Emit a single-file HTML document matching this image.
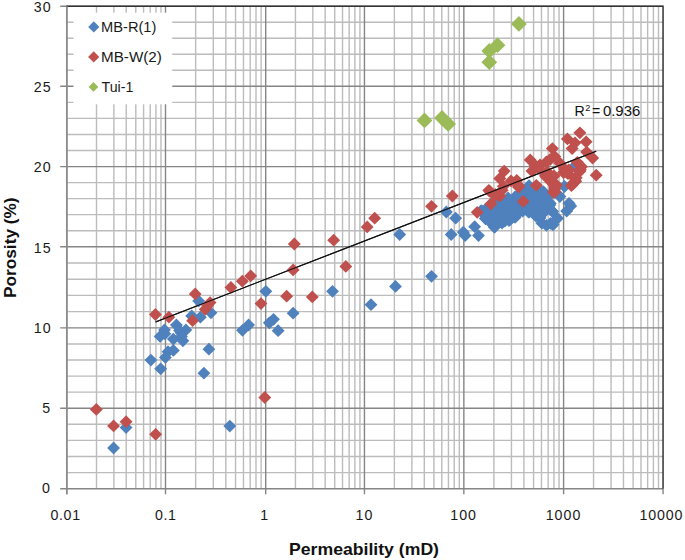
<!DOCTYPE html>
<html><head><meta charset="utf-8"><title>Porosity vs Permeability</title>
<style>html,body{margin:0;padding:0;background:#fff}body{width:685px;height:560px;overflow:hidden}</style>
</head><body>
<svg width="685" height="560" viewBox="0 0 685 560" style="display:block">
<rect width="685" height="560" fill="#fff"/>
<g stroke="#bcbcbc" stroke-width="1.4" fill="none">
<path d="M96.51 6.25V488.7M113.89 6.25V488.7M126.22 6.25V488.7M135.79 6.25V488.7M143.60 6.25V488.7M150.21 6.25V488.7M155.93 6.25V488.7M160.98 6.25V488.7M195.66 6.25V488.7M213.31 6.25V488.7M225.83 6.25V488.7M235.54 6.25V488.7M243.47 6.25V488.7M250.18 6.25V488.7M255.99 6.25V488.7M261.12 6.25V488.7M295.43 6.25V488.7M312.82 6.25V488.7M325.15 6.25V488.7M334.72 6.25V488.7M342.54 6.25V488.7M349.15 6.25V488.7M354.88 6.25V488.7M359.93 6.25V488.7M394.37 6.25V488.7M411.88 6.25V488.7M424.29 6.25V488.7M433.93 6.25V488.7M441.80 6.25V488.7M448.45 6.25V488.7M454.22 6.25V488.7M459.30 6.25V488.7M493.88 6.25V488.7M511.44 6.25V488.7M523.91 6.25V488.7M533.57 6.25V488.7M541.47 6.25V488.7M548.15 6.25V488.7M553.93 6.25V488.7M559.04 6.25V488.7M593.54 6.25V488.7M611.05 6.25V488.7M623.47 6.25V488.7M633.11 6.25V488.7M640.99 6.25V488.7M647.65 6.25V488.7M653.41 6.25V488.7M658.50 6.25V488.7"/>
<path d="M66.8 472.60H663.05M66.8 456.50H663.05M66.8 440.40H663.05M66.8 424.30H663.05M66.8 392.14H663.05M66.8 376.08H663.05M66.8 360.02H663.05M66.8 343.96H663.05M66.8 311.66H663.05M66.8 295.42H663.05M66.8 279.18H663.05M66.8 262.94H663.05M66.8 230.68H663.05M66.8 214.66H663.05M66.8 198.64H663.05M66.8 182.62H663.05M66.8 150.54H663.05M66.8 134.48H663.05M66.8 118.42H663.05M66.8 102.36H663.05M66.8 70.29H663.05M66.8 54.28H663.05M66.8 38.27H663.05M66.8 22.26H663.05"/>
</g>
<g stroke="#858585" stroke-width="1.4" fill="none">
<path d="M66.80 6.25V494.3M165.50 6.25V494.3M265.70 6.25V494.3M364.45 6.25V494.3M463.85 6.25V494.3M563.60 6.25V494.3M663.05 488.7V494.3"/>
<path d="M60.199999999999996 488.70H663.05M60.199999999999996 408.20H663.05M60.199999999999996 327.90H663.05M60.199999999999996 246.70H663.05M60.199999999999996 166.60H663.05M60.199999999999996 86.30H663.05M60.199999999999996 6.25H663.05"/>
</g>
<path d="M66.0 6.25H663.05V488.7" stroke="#333" stroke-width="1.5" fill="none"/>
<path d="M66.8 6.25V494.3" stroke="#8c8c8c" stroke-width="1.65" fill="none"/>
<path d="M155.5 321.9L596.2 151.3" stroke="#111" stroke-width="1.1" fill="none"/>
<g><path d="M126.1 421.2L132.5 427.6L126.1 434.1L119.6 427.6Z" fill="#4F81BD"/><path d="M113.6 441.6L120.0 448.0L113.6 454.4L107.1 448.0Z" fill="#4F81BD"/><path d="M198.7 294.4L205.1 300.9L198.7 307.3L192.2 300.9Z" fill="#4F81BD"/><path d="M211.0 306.4L217.4 312.8L211.0 319.2L204.6 312.8Z" fill="#4F81BD"/><path d="M200.4 310.8L206.8 317.2L200.4 323.6L194.0 317.2Z" fill="#4F81BD"/><path d="M191.7 309.4L198.1 315.9L191.7 322.3L185.2 315.9Z" fill="#4F81BD"/><path d="M176.4 318.6L182.8 325.0L176.4 331.4L170.0 325.0Z" fill="#4F81BD"/><path d="M164.5 323.4L170.9 329.9L164.5 336.3L158.1 329.9Z" fill="#4F81BD"/><path d="M185.9 323.4L192.3 329.9L185.9 336.3L179.5 329.9Z" fill="#4F81BD"/><path d="M181.2 326.4L187.6 332.9L181.2 339.3L174.8 332.9Z" fill="#4F81BD"/><path d="M160.1 329.9L166.5 336.4L160.1 342.8L153.7 336.4Z" fill="#4F81BD"/><path d="M173.3 332.7L179.8 339.1L173.3 345.6L166.9 339.1Z" fill="#4F81BD"/><path d="M179.5 324.1L185.9 330.5L179.5 336.9L173.1 330.5Z" fill="#4F81BD"/><path d="M181.5 330.1L187.9 336.5L181.5 342.9L175.1 336.5Z" fill="#4F81BD"/><path d="M164.9 327.4L171.3 333.8L164.9 340.2L158.5 333.8Z" fill="#4F81BD"/><path d="M182.9 334.4L189.3 340.8L182.9 347.2L176.5 340.8Z" fill="#4F81BD"/><path d="M173.3 343.9L179.8 350.4L173.3 356.8L166.9 350.4Z" fill="#4F81BD"/><path d="M168.0 345.2L174.4 351.7L168.0 358.1L161.6 351.7Z" fill="#4F81BD"/><path d="M165.4 350.9L171.8 357.4L165.4 363.8L159.0 357.4Z" fill="#4F81BD"/><path d="M150.9 353.7L157.3 360.1L150.9 366.6L144.5 360.1Z" fill="#4F81BD"/><path d="M160.7 362.4L167.1 368.8L160.7 375.2L154.2 368.8Z" fill="#4F81BD"/><path d="M208.9 342.8L215.3 349.2L208.9 355.6L202.5 349.2Z" fill="#4F81BD"/><path d="M203.9 366.8L210.3 373.2L203.9 379.6L197.5 373.2Z" fill="#4F81BD"/><path d="M248.6 318.6L255.0 325.0L248.6 331.4L242.2 325.0Z" fill="#4F81BD"/><path d="M242.5 323.9L248.9 330.3L242.5 336.8L236.1 330.3Z" fill="#4F81BD"/><path d="M265.9 284.9L272.3 291.3L265.9 297.8L259.4 291.3Z" fill="#4F81BD"/><path d="M332.5 284.9L338.9 291.3L332.5 297.8L326.1 291.3Z" fill="#4F81BD"/><path d="M293.1 306.8L299.6 313.2L293.1 319.6L286.7 313.2Z" fill="#4F81BD"/><path d="M273.5 312.9L279.9 319.3L273.5 325.8L267.1 319.3Z" fill="#4F81BD"/><path d="M269.3 316.4L275.8 322.8L269.3 329.2L262.9 322.8Z" fill="#4F81BD"/><path d="M278.1 324.2L284.6 330.7L278.1 337.1L271.7 330.7Z" fill="#4F81BD"/><path d="M229.8 419.7L236.2 426.1L229.8 432.6L223.4 426.1Z" fill="#4F81BD"/><path d="M399.6 228.1L406.1 234.5L399.6 240.9L393.2 234.5Z" fill="#4F81BD"/><path d="M446.3 205.6L452.8 212.0L446.3 218.4L439.9 212.0Z" fill="#4F81BD"/><path d="M455.6 211.8L462.1 218.2L455.6 224.6L449.2 218.2Z" fill="#4F81BD"/><path d="M451.2 228.1L457.6 234.5L451.2 240.9L444.8 234.5Z" fill="#4F81BD"/><path d="M371.0 298.2L377.4 304.7L371.0 311.1L364.6 304.7Z" fill="#4F81BD"/><path d="M395.5 279.9L401.9 286.4L395.5 292.8L389.1 286.4Z" fill="#4F81BD"/><path d="M431.5 269.9L437.9 276.3L431.5 282.8L425.1 276.3Z" fill="#4F81BD"/><path d="M463.3 225.8L469.8 232.2L463.3 238.6L456.9 232.2Z" fill="#4F81BD"/><path d="M465.1 229.2L471.6 235.6L465.1 242.0L458.7 235.6Z" fill="#4F81BD"/><path d="M474.7 220.2L481.1 226.7L474.7 233.1L468.2 226.7Z" fill="#4F81BD"/><path d="M478.5 229.2L484.9 235.6L478.5 242.0L472.1 235.6Z" fill="#4F81BD"/><path d="M494.4 220.6L500.8 227.0L494.4 233.4L487.9 227.0Z" fill="#4F81BD"/><path d="M481.2 204.6L487.6 211.0L481.2 217.4L474.8 211.0Z" fill="#4F81BD"/><path d="M485.5 212.1L491.9 218.5L485.5 224.9L479.1 218.5Z" fill="#4F81BD"/><path d="M553.0 218.4L559.5 224.8L553.0 231.2L546.5 224.8Z" fill="#4F81BD"/><path d="M550.5 217.0L557.0 223.4L550.5 229.8L544.0 223.4Z" fill="#4F81BD"/><path d="M557.5 211.9L564.0 218.3L557.5 224.8L551.0 218.3Z" fill="#4F81BD"/><path d="M546.5 218.9L553.0 225.3L546.5 231.8L540.0 225.3Z" fill="#4F81BD"/><path d="M541.9 216.8L548.4 223.2L541.9 229.6L535.4 223.2Z" fill="#4F81BD"/><path d="M536.0 209.8L542.5 216.2L536.0 222.6L529.5 216.2Z" fill="#4F81BD"/><path d="M542.3 207.6L548.8 214.0L542.3 220.4L535.8 214.0Z" fill="#4F81BD"/><path d="M547.0 197.1L553.5 203.5L547.0 209.9L540.5 203.5Z" fill="#4F81BD"/><path d="M543.5 185.5L550.0 191.9L543.5 198.3L537.0 191.9Z" fill="#4F81BD"/><path d="M566.7 204.7L573.2 211.1L566.7 217.5L560.2 211.1Z" fill="#4F81BD"/><path d="M570.7 199.6L577.2 206.0L570.7 212.4L564.2 206.0Z" fill="#4F81BD"/><path d="M569.0 196.9L575.5 203.3L569.0 209.8L562.5 203.3Z" fill="#4F81BD"/><path d="M559.9 190.1L566.4 196.5L559.9 202.9L553.4 196.5Z" fill="#4F81BD"/><path d="M564.5 180.1L571.0 186.5L564.5 192.9L558.0 186.5Z" fill="#4F81BD"/><path d="M550.0 197.0L556.5 203.4L550.0 209.8L543.5 203.4Z" fill="#4F81BD"/><path d="M552.4 205.0L558.9 211.4L552.4 217.8L545.9 211.4Z" fill="#4F81BD"/><path d="M574.2 160.2L580.7 166.6L574.2 173.0L567.8 166.6Z" fill="#4F81BD"/><path d="M515.0 211.0L521.5 217.4L515.0 223.8L508.6 217.4Z" fill="#4F81BD"/><path d="M481.0 204.6L487.4 211.0L481.0 217.4L474.6 211.0Z" fill="#4F81BD"/><path d="M490.0 198.6L496.4 205.0L490.0 211.4L483.6 205.0Z" fill="#4F81BD"/><path d="M500.0 194.6L506.4 201.0L500.0 207.4L493.6 201.0Z" fill="#4F81BD"/><path d="M508.0 191.6L514.5 198.0L508.0 204.4L501.6 198.0Z" fill="#4F81BD"/><path d="M515.0 190.6L521.5 197.0L515.0 203.4L508.6 197.0Z" fill="#4F81BD"/><path d="M522.0 183.6L528.5 190.0L522.0 196.4L515.5 190.0Z" fill="#4F81BD"/><path d="M529.0 179.2L535.5 185.7L529.0 192.1L522.5 185.7Z" fill="#4F81BD"/><path d="M536.0 183.6L542.5 190.0L536.0 196.4L529.5 190.0Z" fill="#4F81BD"/><path d="M543.0 185.6L549.5 192.0L543.0 198.4L536.5 192.0Z" fill="#4F81BD"/><path d="M547.0 191.6L553.5 198.0L547.0 204.4L540.5 198.0Z" fill="#4F81BD"/><path d="M550.0 197.0L556.5 203.4L550.0 209.8L543.5 203.4Z" fill="#4F81BD"/><path d="M552.4 205.0L558.9 211.4L552.4 217.8L545.9 211.4Z" fill="#4F81BD"/><path d="M546.0 200.6L552.5 207.0L546.0 213.4L539.5 207.0Z" fill="#4F81BD"/><path d="M541.0 205.6L547.5 212.0L541.0 218.4L534.5 212.0Z" fill="#4F81BD"/><path d="M540.0 211.6L546.5 218.0L540.0 224.4L533.5 218.0Z" fill="#4F81BD"/><path d="M535.0 207.1L541.5 213.5L535.0 219.9L528.5 213.5Z" fill="#4F81BD"/><path d="M529.0 205.6L535.5 212.0L529.0 218.4L522.5 212.0Z" fill="#4F81BD"/><path d="M522.6 204.6L529.1 211.0L522.6 217.4L516.1 211.0Z" fill="#4F81BD"/><path d="M515.0 209.1L521.5 215.5L515.0 221.9L508.6 215.5Z" fill="#4F81BD"/><path d="M509.0 214.1L515.5 220.5L509.0 226.9L502.6 220.5Z" fill="#4F81BD"/><path d="M502.0 216.6L508.4 223.0L502.0 229.4L495.6 223.0Z" fill="#4F81BD"/><path d="M494.6 220.6L501.1 227.0L494.6 233.4L488.2 227.0Z" fill="#4F81BD"/><path d="M489.0 214.6L495.4 221.0L489.0 227.4L482.6 221.0Z" fill="#4F81BD"/><path d="M485.5 212.1L491.9 218.5L485.5 224.9L479.1 218.5Z" fill="#4F81BD"/><path d="M528.1 181.8L534.6 188.2L528.1 194.6L521.6 188.2Z" fill="#4F81BD"/><path d="M523.8 186.5L530.2 192.9L523.8 199.3L517.3 192.9Z" fill="#4F81BD"/><path d="M527.0 185.4L533.5 191.8L527.0 198.2L520.5 191.8Z" fill="#4F81BD"/><path d="M531.7 186.5L538.2 192.9L531.7 199.3L525.2 192.9Z" fill="#4F81BD"/><path d="M537.6 184.8L544.1 191.2L537.6 197.6L531.1 191.2Z" fill="#4F81BD"/><path d="M540.2 185.0L546.7 191.4L540.2 197.8L533.8 191.4Z" fill="#4F81BD"/><path d="M517.8 188.8L524.2 195.2L517.8 201.6L511.3 195.2Z" fill="#4F81BD"/><path d="M522.6 188.5L529.1 194.9L522.6 201.3L516.1 194.9Z" fill="#4F81BD"/><path d="M526.3 188.8L532.8 195.2L526.3 201.6L519.8 195.2Z" fill="#4F81BD"/><path d="M531.0 189.2L537.5 195.7L531.0 202.1L524.5 195.7Z" fill="#4F81BD"/><path d="M535.4 190.5L541.9 196.9L535.4 203.3L528.9 196.9Z" fill="#4F81BD"/><path d="M541.3 188.8L547.8 195.2L541.3 201.6L534.8 195.2Z" fill="#4F81BD"/><path d="M544.9 189.2L551.4 195.6L544.9 202.0L538.4 195.6Z" fill="#4F81BD"/><path d="M509.6 194.7L516.1 201.1L509.6 207.5L503.2 201.1Z" fill="#4F81BD"/><path d="M514.9 194.1L521.4 200.5L514.9 206.9L508.4 200.5Z" fill="#4F81BD"/><path d="M517.9 193.2L524.4 199.7L517.9 206.1L511.4 199.7Z" fill="#4F81BD"/><path d="M522.2 194.2L528.7 200.7L522.2 207.1L515.8 200.7Z" fill="#4F81BD"/><path d="M527.6 194.2L534.1 200.7L527.6 207.1L521.1 200.7Z" fill="#4F81BD"/><path d="M531.6 192.9L538.1 199.3L531.6 205.8L525.1 199.3Z" fill="#4F81BD"/><path d="M537.2 194.8L543.7 201.2L537.2 207.6L530.8 201.2Z" fill="#4F81BD"/><path d="M541.8 194.2L548.2 200.7L541.8 207.1L535.3 200.7Z" fill="#4F81BD"/><path d="M546.3 194.2L552.8 200.6L546.3 207.0L539.8 200.6Z" fill="#4F81BD"/><path d="M492.5 198.8L498.9 205.2L492.5 211.6L486.1 205.2Z" fill="#4F81BD"/><path d="M497.1 197.2L503.6 203.7L497.1 210.1L490.7 203.7Z" fill="#4F81BD"/><path d="M499.8 196.9L506.2 203.3L499.8 209.8L493.4 203.3Z" fill="#4F81BD"/><path d="M504.3 196.9L510.8 203.3L504.3 209.8L497.9 203.3Z" fill="#4F81BD"/><path d="M509.8 198.6L516.2 205.0L509.8 211.4L503.4 205.0Z" fill="#4F81BD"/><path d="M514.8 197.6L521.2 204.0L514.8 210.4L508.3 204.0Z" fill="#4F81BD"/><path d="M518.9 198.2L525.4 204.7L518.9 211.1L512.4 204.7Z" fill="#4F81BD"/><path d="M522.0 198.0L528.5 204.4L522.0 210.8L515.5 204.4Z" fill="#4F81BD"/><path d="M528.5 198.2L535.0 204.7L528.5 211.1L522.0 204.7Z" fill="#4F81BD"/><path d="M532.6 197.5L539.1 203.9L532.6 210.3L526.1 203.9Z" fill="#4F81BD"/><path d="M535.7 198.2L542.2 204.7L535.7 211.1L529.2 204.7Z" fill="#4F81BD"/><path d="M540.6 198.2L547.1 204.7L540.6 211.1L534.1 204.7Z" fill="#4F81BD"/><path d="M546.6 197.4L553.1 203.8L546.6 210.2L540.1 203.8Z" fill="#4F81BD"/><path d="M549.8 198.7L556.2 205.1L549.8 211.5L543.3 205.1Z" fill="#4F81BD"/><path d="M486.2 202.4L492.6 208.8L486.2 215.2L479.8 208.8Z" fill="#4F81BD"/><path d="M492.7 202.0L499.1 208.4L492.7 214.8L486.2 208.4Z" fill="#4F81BD"/><path d="M495.6 201.7L502.1 208.1L495.6 214.5L489.2 208.1Z" fill="#4F81BD"/><path d="M499.6 200.4L506.1 206.8L499.6 213.2L493.2 206.8Z" fill="#4F81BD"/><path d="M506.1 202.0L512.6 208.4L506.1 214.8L499.7 208.4Z" fill="#4F81BD"/><path d="M509.6 202.6L516.1 209.0L509.6 215.4L503.2 209.0Z" fill="#4F81BD"/><path d="M513.8 202.5L520.2 208.9L513.8 215.3L507.3 208.9Z" fill="#4F81BD"/><path d="M519.3 200.9L525.8 207.3L519.3 213.8L512.8 207.3Z" fill="#4F81BD"/><path d="M522.4 201.1L528.9 207.5L522.4 213.9L515.9 207.5Z" fill="#4F81BD"/><path d="M526.9 201.8L533.4 208.2L526.9 214.6L520.4 208.2Z" fill="#4F81BD"/><path d="M531.4 201.4L537.9 207.8L531.4 214.2L524.9 207.8Z" fill="#4F81BD"/><path d="M535.6 202.6L542.1 209.0L535.6 215.4L529.1 209.0Z" fill="#4F81BD"/><path d="M540.6 201.5L547.1 207.9L540.6 214.3L534.1 207.9Z" fill="#4F81BD"/><path d="M549.8 202.6L556.2 209.0L549.8 215.4L543.3 209.0Z" fill="#4F81BD"/><path d="M482.4 204.8L488.8 211.2L482.4 217.6L475.9 211.2Z" fill="#4F81BD"/><path d="M485.8 206.2L492.2 212.7L485.8 219.1L479.4 212.7Z" fill="#4F81BD"/><path d="M490.7 205.5L497.1 211.9L490.7 218.3L484.2 211.9Z" fill="#4F81BD"/><path d="M496.5 205.7L502.9 212.1L496.5 218.5L490.1 212.1Z" fill="#4F81BD"/><path d="M500.1 205.6L506.6 212.0L500.1 218.4L493.7 212.0Z" fill="#4F81BD"/><path d="M505.1 206.2L511.6 212.7L505.1 219.1L498.7 212.7Z" fill="#4F81BD"/><path d="M508.6 205.7L515.1 212.1L508.6 218.5L502.2 212.1Z" fill="#4F81BD"/><path d="M513.4 205.1L519.9 211.5L513.4 217.9L506.9 211.5Z" fill="#4F81BD"/><path d="M519.2 205.6L525.7 212.0L519.2 218.4L512.8 212.0Z" fill="#4F81BD"/><path d="M528.5 205.5L535.0 211.9L528.5 218.3L522.0 211.9Z" fill="#4F81BD"/><path d="M532.3 205.6L538.8 212.0L532.3 218.4L525.8 212.0Z" fill="#4F81BD"/><path d="M536.5 206.1L543.0 212.5L536.5 218.9L530.0 212.5Z" fill="#4F81BD"/><path d="M540.9 205.7L547.4 212.1L540.9 218.5L534.4 212.1Z" fill="#4F81BD"/><path d="M486.1 209.5L492.6 215.9L486.1 222.3L479.7 215.9Z" fill="#4F81BD"/><path d="M490.5 209.0L496.9 215.4L490.5 221.8L484.1 215.4Z" fill="#4F81BD"/><path d="M495.0 210.0L501.4 216.4L495.0 222.8L488.6 216.4Z" fill="#4F81BD"/><path d="M501.2 210.6L507.6 217.0L501.2 223.4L494.8 217.0Z" fill="#4F81BD"/><path d="M504.2 210.1L510.6 216.5L504.2 222.9L497.8 216.5Z" fill="#4F81BD"/><path d="M509.9 208.7L516.4 215.1L509.9 221.5L503.4 215.1Z" fill="#4F81BD"/><path d="M540.3 209.2L546.8 215.6L540.3 222.0L533.8 215.6Z" fill="#4F81BD"/><path d="M490.6 213.0L497.1 219.4L490.6 225.8L484.2 219.4Z" fill="#4F81BD"/><path d="M494.9 214.2L501.3 220.7L494.9 227.1L488.4 220.7Z" fill="#4F81BD"/><path d="M499.9 212.7L506.3 219.1L499.9 225.5L493.4 219.1Z" fill="#4F81BD"/><path d="M504.8 214.6L511.2 221.0L504.8 227.4L498.4 221.0Z" fill="#4F81BD"/><path d="M510.3 213.0L516.8 219.4L510.3 225.8L503.9 219.4Z" fill="#4F81BD"/><path d="M495.5 217.1L501.9 223.5L495.5 229.9L489.1 223.5Z" fill="#4F81BD"/></g>
<g><path d="M96.3 402.9L102.8 409.4L96.3 415.8L89.8 409.4Z" fill="#C0504D"/><path d="M113.6 419.4L120.0 425.9L113.6 432.3L107.1 425.9Z" fill="#C0504D"/><path d="M126.1 415.2L132.5 421.7L126.1 428.1L119.6 421.7Z" fill="#C0504D"/><path d="M155.7 427.9L162.1 434.3L155.7 440.8L149.2 434.3Z" fill="#C0504D"/><path d="M155.4 308.1L161.8 314.5L155.4 320.9L149.0 314.5Z" fill="#C0504D"/><path d="M168.9 310.8L175.3 317.2L168.9 323.6L162.5 317.2Z" fill="#C0504D"/><path d="M195.2 287.4L201.6 293.9L195.2 300.3L188.8 293.9Z" fill="#C0504D"/><path d="M192.6 314.2L199.0 320.7L192.6 327.1L186.2 320.7Z" fill="#C0504D"/><path d="M205.2 302.9L211.6 309.3L205.2 315.8L198.8 309.3Z" fill="#C0504D"/><path d="M210.1 296.2L216.5 302.6L210.1 309.1L203.7 302.6Z" fill="#C0504D"/><path d="M207.5 299.4L213.9 305.8L207.5 312.2L201.1 305.8Z" fill="#C0504D"/><path d="M230.9 281.1L237.3 287.5L230.9 293.9L224.5 287.5Z" fill="#C0504D"/><path d="M242.3 274.8L248.8 281.2L242.3 287.6L235.9 281.2Z" fill="#C0504D"/><path d="M250.7 269.4L257.1 275.9L250.7 282.3L244.2 275.9Z" fill="#C0504D"/><path d="M294.3 237.6L300.8 244.0L294.3 250.4L287.9 244.0Z" fill="#C0504D"/><path d="M293.1 263.4L299.6 269.9L293.1 276.3L286.7 269.9Z" fill="#C0504D"/><path d="M333.7 233.8L340.1 240.2L333.7 246.6L327.2 240.2Z" fill="#C0504D"/><path d="M345.8 259.9L352.2 266.4L345.8 272.8L339.4 266.4Z" fill="#C0504D"/><path d="M286.6 289.8L293.1 296.2L286.6 302.6L280.2 296.2Z" fill="#C0504D"/><path d="M312.3 290.4L318.8 296.9L312.3 303.3L305.9 296.9Z" fill="#C0504D"/><path d="M261.0 297.2L267.4 303.6L261.0 310.1L254.6 303.6Z" fill="#C0504D"/><path d="M264.8 391.1L271.2 397.5L264.8 403.9L258.4 397.5Z" fill="#C0504D"/><path d="M367.2 220.5L373.6 226.9L367.2 233.3L360.8 226.9Z" fill="#C0504D"/><path d="M374.7 211.8L381.1 218.2L374.7 224.6L368.2 218.2Z" fill="#C0504D"/><path d="M431.5 199.9L437.9 206.3L431.5 212.8L425.1 206.3Z" fill="#C0504D"/><path d="M452.4 189.6L458.8 196.0L452.4 202.4L445.9 196.0Z" fill="#C0504D"/><path d="M477.2 205.9L483.6 212.3L477.2 218.8L470.8 212.3Z" fill="#C0504D"/><path d="M490.8 197.7L497.2 204.1L490.8 210.5L484.4 204.1Z" fill="#C0504D"/><path d="M488.8 183.9L495.2 190.3L488.8 196.8L482.4 190.3Z" fill="#C0504D"/><path d="M495.2 188.1L501.6 194.5L495.2 200.9L488.8 194.5Z" fill="#C0504D"/><path d="M499.9 189.7L506.3 196.1L499.9 202.5L493.4 196.1Z" fill="#C0504D"/><path d="M503.4 179.8L509.8 186.2L503.4 192.6L496.9 186.2Z" fill="#C0504D"/><path d="M518.5 180.6L525.0 187.0L518.5 193.4L512.0 187.0Z" fill="#C0504D"/><path d="M536.3 178.9L542.8 185.3L536.3 191.8L529.8 185.3Z" fill="#C0504D"/><path d="M554.7 185.6L561.2 192.0L554.7 198.4L548.2 192.0Z" fill="#C0504D"/><path d="M523.2 195.0L529.7 201.4L523.2 207.8L516.8 201.4Z" fill="#C0504D"/><path d="M504.2 164.7L510.6 171.1L504.2 177.5L497.8 171.1Z" fill="#C0504D"/><path d="M499.9 172.1L506.3 178.5L499.9 184.9L493.4 178.5Z" fill="#C0504D"/><path d="M511.0 174.5L517.5 180.9L511.0 187.3L504.6 180.9Z" fill="#C0504D"/><path d="M516.8 173.9L523.2 180.3L516.8 186.8L510.3 180.3Z" fill="#C0504D"/><path d="M518.5 179.1L525.0 185.5L518.5 191.9L512.0 185.5Z" fill="#C0504D"/><path d="M489.9 185.0L496.3 191.4L489.9 197.8L483.4 191.4Z" fill="#C0504D"/><path d="M502.2 183.8L508.6 190.2L502.2 196.6L495.8 190.2Z" fill="#C0504D"/><path d="M495.2 189.6L501.6 196.0L495.2 202.4L488.8 196.0Z" fill="#C0504D"/><path d="M530.2 153.5L536.7 159.9L530.2 166.3L523.8 159.9Z" fill="#C0504D"/><path d="M534.9 158.7L541.4 165.1L534.9 171.5L528.4 165.1Z" fill="#C0504D"/><path d="M532.0 164.6L538.5 171.0L532.0 177.4L525.5 171.0Z" fill="#C0504D"/><path d="M538.4 161.6L544.9 168.0L538.4 174.4L531.9 168.0Z" fill="#C0504D"/><path d="M545.4 168.6L551.9 175.0L545.4 181.4L538.9 175.0Z" fill="#C0504D"/><path d="M551.2 172.1L557.7 178.5L551.2 184.9L544.8 178.5Z" fill="#C0504D"/><path d="M554.7 182.6L561.2 189.0L554.7 195.4L548.2 189.0Z" fill="#C0504D"/><path d="M552.4 142.2L558.9 148.6L552.4 155.0L545.9 148.6Z" fill="#C0504D"/><path d="M550.1 153.1L556.6 159.5L550.1 165.9L543.6 159.5Z" fill="#C0504D"/><path d="M554.7 150.0L561.2 156.4L554.7 162.8L548.2 156.4Z" fill="#C0504D"/><path d="M540.0 158.6L546.5 165.0L540.0 171.4L533.5 165.0Z" fill="#C0504D"/><path d="M546.4 155.6L552.9 162.0L546.4 168.4L539.9 162.0Z" fill="#C0504D"/><path d="M547.0 165.0L553.5 171.4L547.0 177.8L540.5 171.4Z" fill="#C0504D"/><path d="M545.8 170.2L552.2 176.7L545.8 183.1L539.3 176.7Z" fill="#C0504D"/><path d="M551.7 175.0L558.2 181.4L551.7 187.8L545.2 181.4Z" fill="#C0504D"/><path d="M556.4 178.5L562.9 184.9L556.4 191.3L549.9 184.9Z" fill="#C0504D"/><path d="M554.0 184.9L560.5 191.3L554.0 197.8L547.5 191.3Z" fill="#C0504D"/><path d="M553.5 185.9L560.0 192.3L553.5 198.8L547.0 192.3Z" fill="#C0504D"/><path d="M554.7 180.6L561.2 187.0L554.7 193.4L548.2 187.0Z" fill="#C0504D"/><path d="M551.2 175.9L557.7 182.3L551.2 188.8L544.8 182.3Z" fill="#C0504D"/><path d="M579.9 126.4L586.4 132.8L579.9 139.2L573.4 132.8Z" fill="#C0504D"/><path d="M567.4 132.5L573.9 138.9L567.4 145.3L560.9 138.9Z" fill="#C0504D"/><path d="M575.0 136.4L581.5 142.8L575.0 149.2L568.5 142.8Z" fill="#C0504D"/><path d="M586.1 135.4L592.6 141.8L586.1 148.2L579.6 141.8Z" fill="#C0504D"/><path d="M572.1 142.2L578.6 148.6L572.1 155.0L565.6 148.6Z" fill="#C0504D"/><path d="M586.7 145.7L593.2 152.1L586.7 158.5L580.2 152.1Z" fill="#C0504D"/><path d="M592.6 151.6L599.1 158.0L592.6 164.4L586.1 158.0Z" fill="#C0504D"/><path d="M559.9 156.8L566.4 163.2L559.9 169.6L553.4 163.2Z" fill="#C0504D"/><path d="M564.5 162.6L571.0 169.0L564.5 175.4L558.0 169.0Z" fill="#C0504D"/><path d="M568.0 167.2L574.5 173.7L568.0 180.1L561.5 173.7Z" fill="#C0504D"/><path d="M563.5 166.1L570.0 172.5L563.5 178.9L557.0 172.5Z" fill="#C0504D"/><path d="M554.0 169.6L560.5 176.0L554.0 182.4L547.5 176.0Z" fill="#C0504D"/><path d="M566.3 165.6L572.8 172.0L566.3 178.4L559.8 172.0Z" fill="#C0504D"/><path d="M577.3 155.9L583.8 162.3L577.3 168.8L570.8 162.3Z" fill="#C0504D"/><path d="M568.7 163.4L575.2 169.8L568.7 176.2L562.2 169.8Z" fill="#C0504D"/><path d="M581.5 160.2L588.0 166.7L581.5 173.1L575.0 166.7Z" fill="#C0504D"/><path d="M579.7 165.0L586.2 171.4L579.7 177.8L573.2 171.4Z" fill="#C0504D"/><path d="M580.3 163.2L586.8 169.7L580.3 176.1L573.8 169.7Z" fill="#C0504D"/><path d="M575.0 172.0L581.5 178.4L575.0 184.8L568.5 178.4Z" fill="#C0504D"/><path d="M576.2 171.4L582.7 177.8L576.2 184.2L569.8 177.8Z" fill="#C0504D"/><path d="M573.9 176.1L580.4 182.5L573.9 188.9L567.4 182.5Z" fill="#C0504D"/><path d="M572.2 178.2L578.7 184.7L572.2 191.1L565.8 184.7Z" fill="#C0504D"/><path d="M575.7 174.8L582.2 181.2L575.7 187.6L569.2 181.2Z" fill="#C0504D"/><path d="M571.4 179.2L577.9 185.7L571.4 192.1L564.9 185.7Z" fill="#C0504D"/><path d="M596.2 168.8L602.7 175.2L596.2 181.6L589.8 175.2Z" fill="#C0504D"/></g>
<g><path d="M518.9 16.0L526.8 23.9L518.9 31.8L511.0 23.9Z" fill="#9BBB59"/><path d="M497.5 37.3L505.4 45.2L497.5 53.1L489.6 45.2Z" fill="#9BBB59"/><path d="M489.3 43.0L497.2 50.9L489.3 58.8L481.4 50.9Z" fill="#9BBB59"/><path d="M489.3 54.3L497.2 62.2L489.3 70.1L481.4 62.2Z" fill="#9BBB59"/><path d="M424.5 112.5L432.4 120.4L424.5 128.3L416.6 120.4Z" fill="#9BBB59"/><path d="M442.0 110.1L449.9 118.0L442.0 125.9L434.1 118.0Z" fill="#9BBB59"/><path d="M448.1 116.0L456.0 123.9L448.1 131.8L440.2 123.9Z" fill="#9BBB59"/></g>
<path d="M155.5 321.9L596.2 151.3" stroke="#111" stroke-width="1.1" fill="none"/>
<rect x="73.5" y="12.7" width="98.8" height="91.6" fill="#fff"/>
<path d="M93.8 21.3L99.4 26.9L93.8 32.5L88.2 26.9Z" fill="#4F81BD"/>
<path d="M93.7 51.3L99.3 56.9L93.7 62.5L88.1 56.9Z" fill="#C0504D"/>
<path d="M93.5 82.0L98.4 86.9L93.5 91.8L88.6 86.9Z" fill="#9BBB59"/>
<g font-family="Liberation Sans, sans-serif" font-size="14.3" fill="#1a1a1a">
<text x="101.0" y="32.3" textLength="55.4" lengthAdjust="spacingAndGlyphs">MB-R(1)</text>
<text x="101.0" y="62.1" textLength="60.9" lengthAdjust="spacingAndGlyphs">MB-W(2)</text>
<text x="101.6" y="92.1" textLength="31.8" lengthAdjust="spacingAndGlyphs">Tui-1</text>
</g>
<g font-family="Liberation Sans, sans-serif" font-size="14.2" fill="#111"><text x="574.6" y="116.2">R</text><text x="585.2" y="110.6" font-size="9.2">2</text><text x="592.0" y="116.0">=</text><text x="602.9" y="116.2" textLength="37.4" lengthAdjust="spacingAndGlyphs">0.936</text></g>
<g font-family="Liberation Sans, sans-serif" font-size="14.2" fill="#1a1a1a">
<text x="42.08" y="493.2" letter-spacing="0">0</text>
<text x="42.14" y="413.0" letter-spacing="0">5</text>
<text x="33.78" y="332.8" letter-spacing="1.0">10</text>
<text x="33.84" y="252.5" letter-spacing="1.0">15</text>
<text x="33.78" y="172.3" letter-spacing="1.0">20</text>
<text x="33.84" y="92.1" letter-spacing="1.0">25</text>
<text x="33.78" y="11.9" letter-spacing="1.0">30</text>
</g>
<g font-family="Liberation Sans, sans-serif" font-size="14.2" fill="#1a1a1a">
<text x="50.40" y="520.2" letter-spacing="0.7">0.01</text>
<text x="155.10" y="520.2" letter-spacing="0.5">0.1</text>
<text x="260.32" y="520.2" letter-spacing="0">1</text>
<text x="355.42" y="520.2" letter-spacing="1.1">10</text>
<text x="450.22" y="520.2" letter-spacing="1.05">100</text>
<text x="545.72" y="520.2" letter-spacing="1.0">1000</text>
<text x="639.42" y="520.2" letter-spacing="0.9">10000</text>
</g>
<text font-family="Liberation Sans, sans-serif" font-weight="bold" font-size="16.6" fill="#111" x="289.0" y="554.5" textLength="150.0" lengthAdjust="spacingAndGlyphs">Permeability (mD)</text>
<text font-family="Liberation Sans, sans-serif" font-weight="bold" font-size="16.6" fill="#111" transform="translate(16.4 298.0) rotate(-90)" textLength="100.6" lengthAdjust="spacingAndGlyphs">Porosity (%)</text>
</svg>
</body></html>
